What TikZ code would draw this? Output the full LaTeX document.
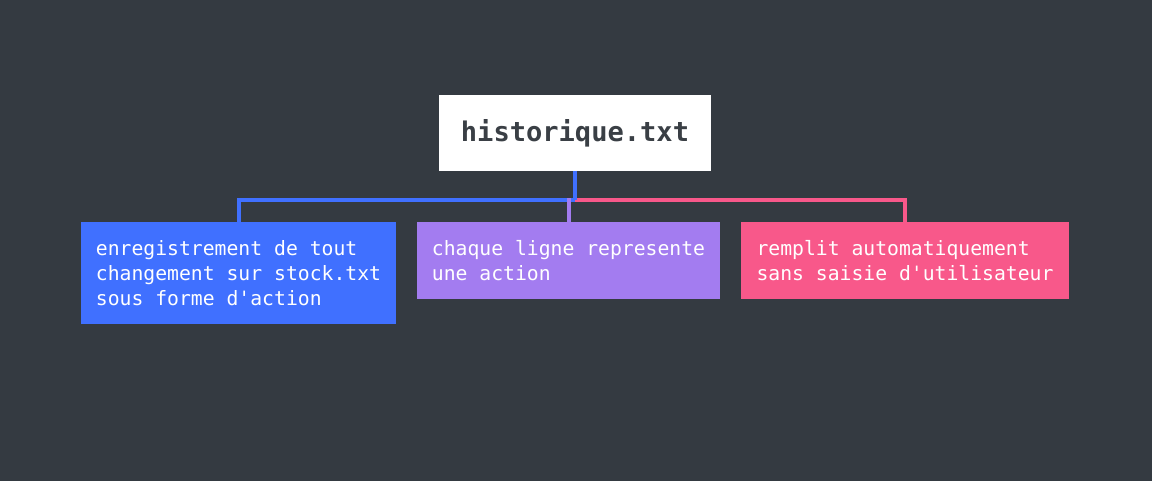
\documentclass[tikz,border=0pt]{standalone}
\usepackage{fontspec}
\setmonofont{DejaVu Sans Mono}
\usetikzlibrary{positioning}
\definecolor{bgdark}{RGB}{52,58,65}
\definecolor{txtdark}{RGB}{58,63,69}
\definecolor{cblue}{RGB}{64,112,255}
\definecolor{cpurple}{RGB}{163,124,240}
\definecolor{cpink}{RGB}{248,88,138}
\newcommand{\leaffont}{\ttfamily\fontsize{14.8}{18.75}\selectfont}
\newcommand{\monospace}{\setlength{\spaceskip}{8.91pt}\setlength{\xspaceskip}{8.91pt}}
\begin{document}
\begin{tikzpicture}[x=0.75pt,y=-0.75pt,
  leaf/.style={inner sep=0pt,align=left,text=white,font=\leaffont,
    execute at begin node=\monospace},
  link/.style={line width=3pt}]
\fill[bgdark] (0,0) rectangle (1152,481);
\useasboundingbox (0,0) rectangle (1152,481);
\node[fill=white,minimum width=204pt,minimum height=57pt,text=txtdark,
  font=\ttfamily\bfseries\fontsize{20.3}{24}\selectfont] (hist) at (575,133) {historique.txt};
\node[leaf,fill=cblue,minimum width=236.25pt,minimum height=76.5pt] (rec) at (238.5,273)
  {enregistrement de tout\\changement sur stock.txt\\sous forme d'action};
\node[leaf,fill=cpurple,minimum width=227.25pt,minimum height=57.75pt] (line) at (568.5,260.5)
  {chaque ligne represente\\une action};
\node[leaf,fill=cpink,minimum width=246pt,minimum height=57.75pt] (auto) at (905,260.5)
  {remplit automatiquement\\sans saisie d'utilisateur};
% connectors
\coordinate (fork) at (575,200);
\draw[link,cblue] (hist.south) -- (fork) -| (rec.north);
\draw[link,cpink] (fork) -| (auto.north);
\draw[link,cpurple] (568.5,198) -- (line.north);
\draw[link,cblue] (hist.south) -- (fork);
\end{tikzpicture}
\end{document}
